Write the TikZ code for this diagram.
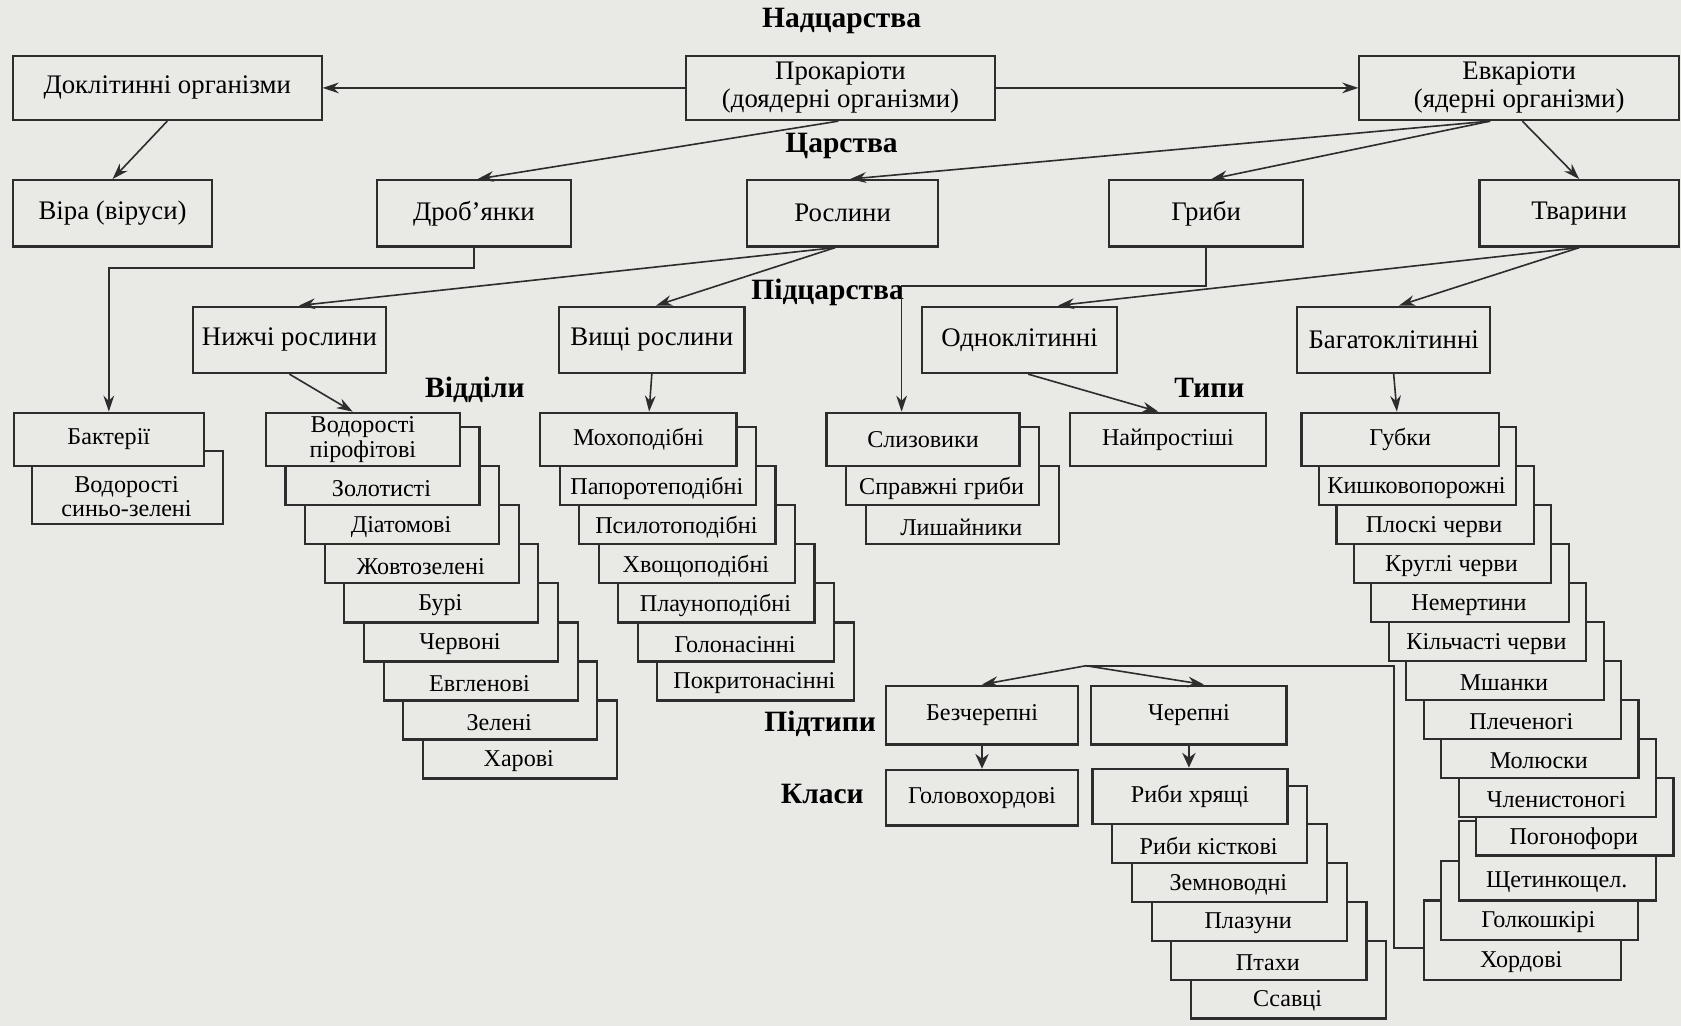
\documentclass[tikz,border=0pt]{standalone}
\usepackage{fontspec}
\setmainfont{Liberation Serif}
\usetikzlibrary{arrows.meta,calc}
\definecolor{paper}{RGB}{233,233,230}
\definecolor{ink}{RGB}{45,45,45}

\begin{document}
\begin{tikzpicture}[x=0.4pt,y=-0.4pt,
    bw/.style={minimum width=#1*0.4pt},
    bh/.style={minimum height=#1*0.4pt}]
  \tikzstyle{box}=[draw=ink,fill=paper,line width=0.8pt,inner sep=0pt,align=center,font=\fontsize{10}{10.5}\selectfont]
  \tikzstyle{lowbox}=[box,font=\fontsize{9}{9}\selectfont]
  \tikzstyle{sbox}=[draw=ink,fill=paper,line width=0.8pt,inner sep=0pt,anchor=south west]
  \tikzstyle{stxt}=[inner sep=0pt,align=center,font=\fontsize{9}{9}\selectfont]
  \tikzstyle{lvl}=[inner sep=0pt,font=\bfseries\fontsize{11}{12}\selectfont]
  \tikzstyle{arr}=[draw=ink,line width=0.6pt,-{Stealth[length=6pt,width=4pt]}]
  \tikzstyle{shortarr}=[draw=ink,line width=0.6pt,-{Stealth[length=5.5pt,width=5pt]}]
  \tikzstyle{link}=[draw=ink,line width=0.6pt]
  \fill[paper] (0,0) rectangle (1568,957);
  \useasboundingbox (0,0) rectangle (1568,957);

  % level names
  \node[lvl] (h-nadc) at (785,20) {Надцарства};
  \node[lvl] (h-carst) at (785,136) {Царства};
  \node[lvl] (h-pidc) at (772,273) {Підцарства};
  \node[lvl] (h-vidd) at (443,364) {Відділи};
  \node[lvl] (h-typy) at (1128,362) {Типи};
  \node[lvl] (h-pidt) at (765,675) {Підтипи};
  \node[lvl] (h-klas) at (767,741) {Класи};

  % superkingdoms
  \node[box,bw=288,bh=60] (dokl) at (156,82) {Доклітинні організми};
  \node[box,bw=288,bh=60] (prok) at (784,82) {Прокаріоти\\(доядерні організми)};
  \node[box,bw=298,bh=60] (evk) at (1417,82) {Евкаріоти\\(ядерні організми)};
  % kingdoms
  \node[box,bw=186,bh=62] (vira) at (105,199) {Віра (віруси)};
  \node[box,bw=181,bh=62] (drob) at (442,199) {Дроб’янки};
  \node[box,bw=178,bh=62] (rosl) at (786,199) {Рослини};
  \node[box,bw=181,bh=62] (hryb) at (1125,199) {Гриби};
  \node[box,bw=186,bh=62] (tvar) at (1473,199) {Тварини};
  % subkingdoms
  \node[box,bw=180,bh=62] (nyzh) at (270,317) {Нижчі рослини};
  \node[box,bw=173,bh=62] (vysch) at (608,317) {Вищі рослини};
  \node[box,bw=182,bh=62] (odno) at (951,317) {Одноклітинні};
  \node[box,bw=180,bh=62] (baha) at (1300,317) {Багатоклітинні};

  % bacteria
  \node[sbox,bw=178,bh=68] (bakt-1) at (29,490) {};
  \node[stxt] (bakt-1-t) at (118,463) {Водорості\\синьо-зелені};
  \node[lowbox,anchor=south west,bw=177,bh=50] (bakt-0) at (12,436) {Бактерії};

  % lower plants
  \foreach \k/\name in {8/Харові,7/Зелені,6/Евгленові,5/Червоні,4/Бурі,3/Жовтозелені,2/Діатомові,1/Золотисті}{
    \node[sbox,bw=181,bh=72.8] (vid-\k) at ({247+18.3*\k},{436+36.4*\k}) {};
    \node[stxt] (vid-\k-t) at ({337.5+18.3*\k},{419+36.4*\k}) {\name};
  }
  \node[lowbox,anchor=south west,bw=181,bh=50] (vid-0) at (247,436) {Водорості\\пірофітові};

  % higher plants
  \foreach \k/\name in {6/Покритонасінні,5/Голонасінні,4/Плауноподібні,3/Хвощоподібні,2/Псилотоподібні,1/Папоротеподібні}{
    \node[sbox,bw=183,bh=72.8] (moh-\k) at ({503+18.2*\k},{436+36.4*\k}) {};
    \node[stxt] (moh-\k-t) at ({594.5+18.2*\k},{419+36.4*\k}) {\name};
  }
  \node[lowbox,anchor=south west,bw=183,bh=50] (moh-0) at (503,436) {Мохоподібні};

  % fungi
  \foreach \k/\name in {2/Лишайники,1/Справжні гриби}{
    \node[sbox,bw=180,bh=72.8] (slyz-\k) at ({770+18.3*\k},{436+36.4*\k}) {};
    \node[stxt] (slyz-\k-t) at ({860+18.3*\k},{419+36.4*\k}) {\name};
  }
  \node[lowbox,anchor=south west,bw=180,bh=50] (slyz-0) at (770,436) {Слизовики};

  \node[lowbox,anchor=south west,bw=183,bh=50] (najp) at (997,436) {Найпростіші};

  % animals
  \foreach \k/\x/\y/\name in {13/1327/915/Хордові,12/1343/878/Голкошкірі,11/1360/841/Щетинкощел.}{
    \node[sbox,bw=184,bh=74] (hub-\k) at (\x,\y) {};
    \node[stxt] (hub-\k-t) at ({\x+92},{\y-18}) {\name};
  }
  \foreach \k/\name in {10/Погонофори,9/Членистоногі,8/Молюски,7/Плеченогі,6/Мшанки,5/Кільчасті черви,4/Немертини,3/Круглі черви,2/Плоскі черви,1/Кишковопорожні}{
    \node[sbox,bw=184,bh=72.6] (hub-\k) at ({1213+16.3*\k},{436+36.3*\k}) {};
    \node[stxt] (hub-\k-t) at ({1305+16.3*\k},{419+36.3*\k}) {\name};
  }
  \node[lowbox,anchor=south west,bw=184,bh=50] (hub-0) at (1213,436) {Губки};

  % chordates
  \node[lowbox,bw=179,bh=55] (bezch) at (916,667) {Безчерепні};
  \node[lowbox,bw=182,bh=55] (cherep) at (1109,667) {Черепні};
  \node[lowbox,bw=179,bh=52] (holov) at (916,744) {Головохордові};
  \foreach \k/\name in {5/Ссавці,4/Птахи,3/Плазуни,2/Земноводні,1/Риби кісткові}{
    \node[sbox,bw=182,bh=72.4] (ryby-\k) at ({1018+18.4*\k},{770+36.2*\k}) {};
    \node[stxt] (ryby-\k-t) at ({1109+18.4*\k},{753+36.2*\k}) {\name};
  }
  \node[lowbox,anchor=south west,bw=182,bh=52] (ryby-0) at (1018,770) {Риби хрящі};

  % connectors
  \draw[arr] (prok.west) -- (dokl.east);
  \draw[arr] (prok.east) -- (evk.west);
  \draw[arr] (dokl.south) -- (vira.north);
  \draw[arr] ([xshift=-0.8pt]prok.south) -- ([xshift=1.4pt]drob.north);
  \draw[arr] ([xshift=-10.8pt]evk.south) -- ([xshift=2.8pt]rosl.north);
  \draw[arr] ([xshift=-10.8pt]evk.south) -- ([xshift=2pt]hryb.north);
  \draw[arr] ([xshift=1.2pt]evk.south) -- (tvar.north);
  \draw[arr] ([xshift=-2.8pt]rosl.south) -- ([xshift=3.6pt]nyzh.north);
  \draw[arr] ([xshift=-2.8pt]rosl.south) -- ([xshift=1.6pt]vysch.north);
  \draw[arr] (tvar.south) -- ([xshift=14.4pt]odno.north);
  \draw[arr] (tvar.south) -- ([xshift=2pt]baha.north);
  \draw[arr] (drob.south) -- ++(0,19) -| (bakt-0.north);
  \draw[arr] (hryb.south) -- ++(0,36) -| ([xshift=-8pt]slyz-0.north);
  \draw[arr] (nyzh.south) -- ([xshift=-3.8pt]vid-0.north);
  \draw[arr] (vysch.south) -- ([xshift=4pt]moh-0.north);
  \draw[arr] ([xshift=3.2pt]odno.south) -- ([xshift=-3.6pt]najp.north);
  \draw[arr] (baha.south) -- ([xshift=-1.2pt]hub-0.north);
  \coordinate (split) at (1013,621);
  \coordinate (bend) at (1300,621);
  \draw[arr] (split) -- (bezch.north);
  \draw[arr] (split) -- ([xshift=5.6pt]cherep.north);
  \draw[link] (split) -- (bend) |- ([yshift=-2.8pt]hub-13.west);
  \draw[shortarr] (bezch.south) -- (holov.north);
  \draw[shortarr] (cherep.south) -- ([xshift=-0.4pt]ryby-0.north);
\end{tikzpicture}
\end{document}
